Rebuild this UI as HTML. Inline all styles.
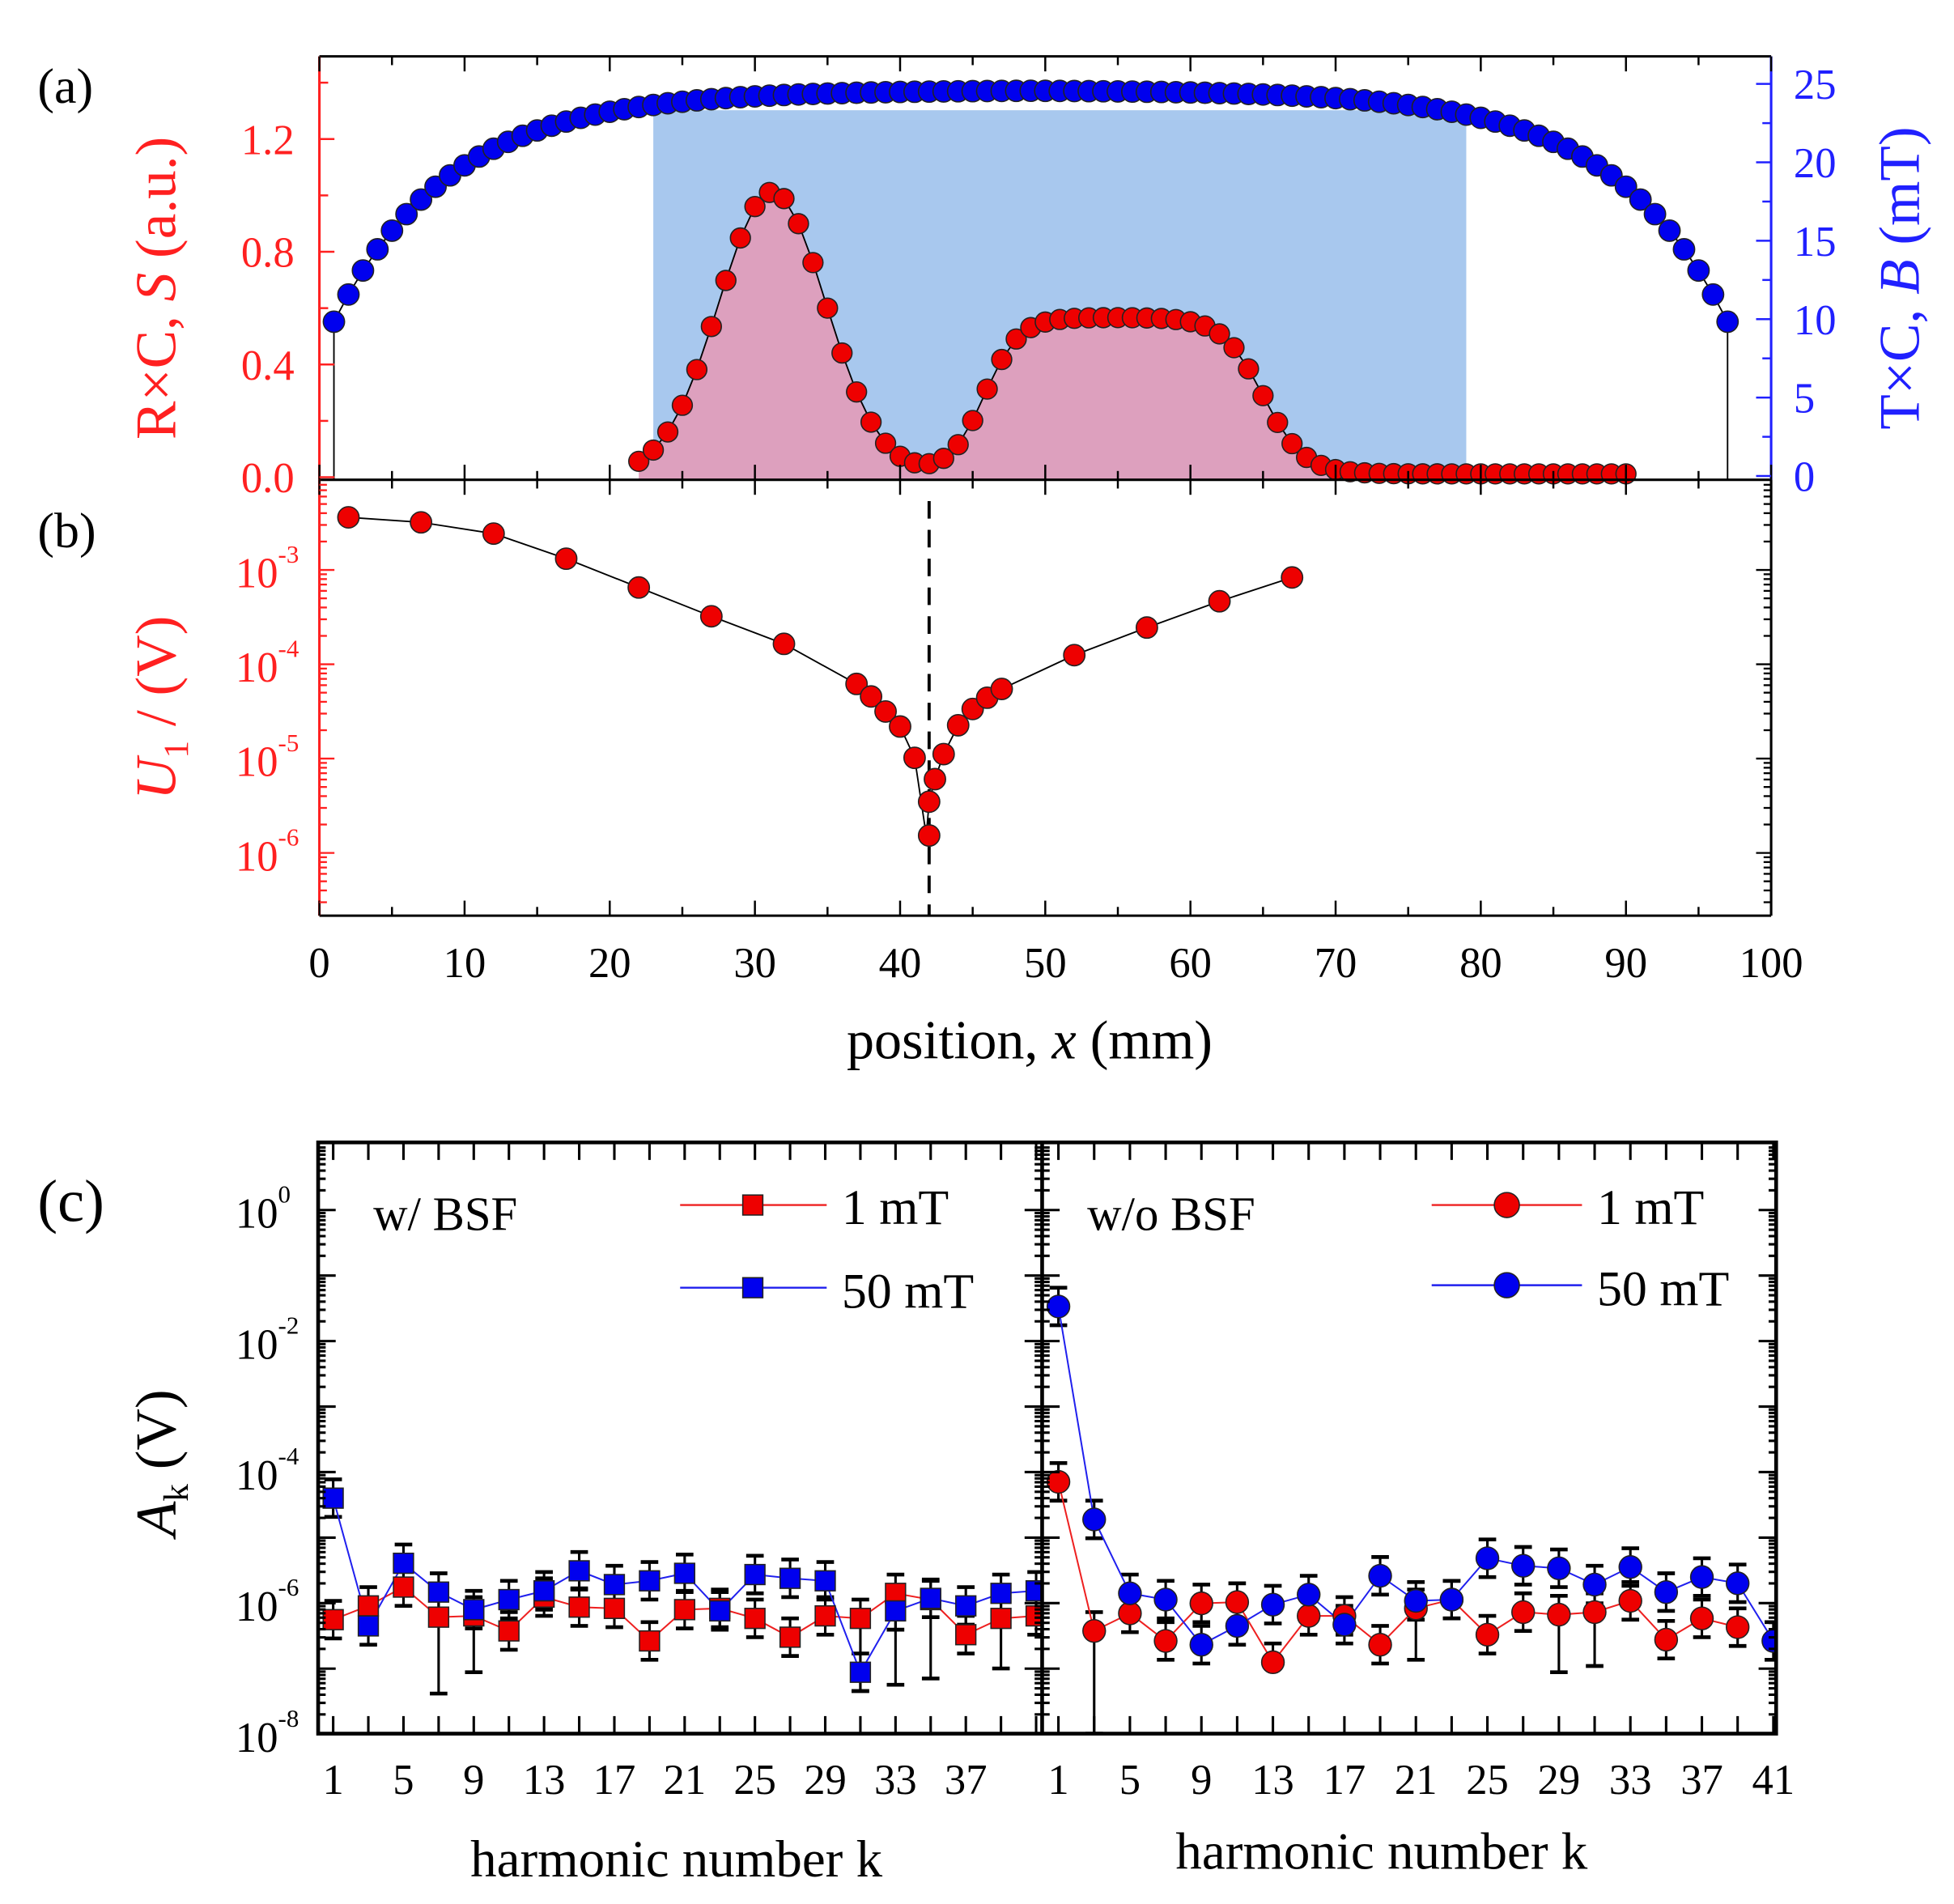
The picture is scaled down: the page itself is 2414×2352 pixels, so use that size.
<!DOCTYPE html>
<html><head><meta charset="utf-8"><style>html,body{margin:0;padding:0;background:#fff}svg{display:block}</style></head>
<body>
<svg id="s" width="2414" height="2352" viewBox="0 0 1560 1520" preserveAspectRatio="none" xmlns="http://www.w3.org/2000/svg" font-family="Liberation Serif, serif"></svg>
<script>
var o=[];function A(s){o.push(s);}
function ln(x1,y1,x2,y2,c,w,d){A('<line x1="'+x1+'" y1="'+y1+'" x2="'+x2+'" y2="'+y2+'" stroke="'+(c||'#000')+'" stroke-width="'+(w||1.5)+'"'+(d?' stroke-dasharray="'+d+'"':'')+'/>');}
function tx(x,y,t,sz,c,anc,extra){A('<text x="'+x+'" y="'+y+'" font-size="'+sz+'" fill="'+(c||'#000')+'" text-anchor="'+(anc||'start')+'" '+(extra||'')+'>'+t+'</text>');}
function circ(x,y,r,f){A('<circle cx="'+x+'" cy="'+y+'" r="'+r+'" fill="'+f+'" stroke="#222" stroke-width="1"/>');}
function sq(x,y,h,f){A('<rect x="'+(x-h)+'" y="'+(y-h)+'" width="'+2*h+'" height="'+2*h+'" fill="'+f+'" stroke="#222" stroke-width="1"/>');}
function pl(pts,c,w){A('<polyline points="'+pts.map(function(p){return p[0].toFixed(1)+','+p[1].toFixed(1)}).join(' ')+'" fill="none" stroke="'+c+'" stroke-width="'+(w||1.3)+'"/>');}
var X=function(v){return 255+v*11.59;};
var Ya=function(s){return 381-s*225;}, Yb=function(b){return 380-b*12.52;};
A('<rect x="'+X(23)+'" y="88" width="'+(X(79)-X(23))+'" height="'+(383-88)+'" fill="#a8c8ee"/>');
var S=function(x){var g=Math.exp(-Math.pow(x-31.2,2)/(2*13.6));var p=0.555/(1+Math.exp(-(x-45.8)/1.2))/(1+Math.exp((x-65)/1.4));return g+p+0.012;};
var rp=[];for(var x=22;x<=90;x++)rp.push([X(x),Ya(S(x))]);
A('<path d="M'+X(22)+',383 '+rp.map(function(p){return 'L'+p[0]+','+p[1]}).join(' ')+' L'+X(90)+',383Z" fill="#dda0be"/>');
pl(rp,'#000',1.2);
var B=function(x){var d=Math.min(x,98-x);return 24.6*(1-0.68*Math.exp(-d/8));};
var bp=[];for(var x=1;x<=97;x++)bp.push([X(x),Yb(B(x))]);
pl(bp,'#000',1.2);
ln(X(1),bp[0][1],X(1),383,'#000',1.2);ln(X(97),bp[96][1],X(97),383,'#000',1.2);
bp.forEach(function(p){circ(p[0],p[1],8.5,'#0000ee');});
rp.forEach(function(p){circ(p[0],p[1],8,'#ee0000');});
ln(255,45,1414,45,'#000',2);ln(255,383,1414,383,'#000',2);
ln(255,45,255,383,'#ff2020',2);ln(1414,45,1414,383,'#2020ff',2);
for(var v=0;v<=100;v+=5){var L=v%10==0?12:7;ln(X(v),45,X(v),45+L,'#000',1.6);ln(X(v),383,X(v),383-L,'#000',1.6);}
for(var s=0;s<=1.41;s+=0.2){var m=Math.round(s*10)%4==0;ln(255,Ya(s),255+(m?12:7),Ya(s),'#ff2020',1.6);if(m)tx(235,Ya(s)+12,s.toFixed(1),34,'#ff2020','end');}
for(var b=0;b<=25;b+=2.5){var m=b%5==0;ln(1414,Yb(b),1414-(m?12:7),Yb(b),'#2020ff',1.6);if(m)tx(1432,Yb(b)+12,b,34,'#2020ff','start');}
tx(30,82,'(a)',40);
tx(0,0,'R×C, <tspan font-style="italic">S</tspan> (a.u.)',46,'#ff2020','middle','transform="translate(140,230) rotate(-90)"');
tx(0,0,'T×C, <tspan font-style="italic">B</tspan> (mT)',46,'#2020ff','middle','transform="translate(1532,222) rotate(-90)"');
var bd=[[2,413],[7,417],[12,426],[17,446],[22,469],[27,492],[32,514],[37,546],[38,556],[39,568],[40,580],[41,605],[42,640],[42,667],[42.4,622],[43,602],[44,579],[45,566],[46,557],[47,550],[52,523],[57,501],[62,480],[67,461]];
var sorted=[[2,413],[7,417],[12,426],[17,446],[22,469],[27,492],[32,514],[37,546],[38,556],[39,568],[40,580],[41,605],[41.8,667],[42,640],[42.4,622],[43,602],[44,579],[45,566],[46,557],[47,550],[52,523],[57,501],[62,480],[67,461]];
pl(sorted.map(function(p){return [X(p[0]),p[1]]}),'#000',1.2);
ln(X(42),400,X(42),731,'#000',2.5,'14,9');
bd.forEach(function(p){circ(X(p[0]),p[1],8.5,'#ee0000');});
ln(255,731,1414,731,'#000',2);ln(255,383,255,731,'#ff2020',2);ln(1414,383,1414,731,'#000',2);
for(var v=0;v<=100;v+=5){var L=v%10==0?12:7;ln(X(v),731,X(v),731-L,'#000',1.6);ln(X(v),383,X(v),383+L,'#000',1.6);}
var Yl=function(e){return 455-(e+3)*75.3;};
for(var e=-7;e<=-2;e++){for(var k=1;k<10;k++){var y=Yl(e+Math.log10(k));if(y<385||y>729)continue;var m=k==1;ln(255,y,255+(m?12:6),y,'#ff2020',1.5);ln(1414,y,1414-(m?12:6),y,'#000',1.5);}}
[-3,-4,-5,-6].forEach(function(e){tx(222,Yl(e)+14,'10',34,'#ff2020','end');tx(222,Yl(e)-6,e,20,'#ff2020','start');});
tx(30,437,'(b)',40);
tx(0,0,'<tspan font-style="italic">U</tspan><tspan font-size="28" dy="10">1</tspan><tspan dy="-10"> / (V)</tspan>',46,'#ff2020','middle','transform="translate(140,565) rotate(-90)"');
for(var v=0;v<=100;v+=10)tx(X(v),780,v,34,'#000','middle');
tx(822,845,'position, <tspan font-style="italic">x</tspan> (mm)',44,'#000','middle');
var T=912,Bt=1384,L1=254,M=832,R1=1418;
var XL=function(k){return 266+(k-1)*14.03;}, XR=function(k){return 845+(k-1)*14.27;};
var Yc=function(e){return 966-e*52.3;};
var lr=[1293,1282,1267,1291,1290,1302,1275,1283,1284,1310,1285,1284,1292,1307,1290,1292,1272,1277,1305,1292,1290];
var lb=[1196,1298,1248,1271,1285,1277,1270,1254,1265,1262,1256,1286,1257,1260,1262,1335,1286,1276,1282,1272,1270];
var rr=[1183,1302,1288,1310,1280,1279,1327,1290,1290,1313,1284,1277,1305,1287,1289,1287,1278,1309,1292,1299];
var rb=[1043,1213,1272,1277,1313,1298,1281,1273,1297,1258,1278,1277,1244,1250,1252,1265,1251,1271,1259,1264,1310];
var lowL={7:1352,9:1335,33:1345,35:1340,39:1332,31:1350};var lowR={3:1384,29:1335,31:1330,21:1325,13:1330};
function eb(x,y,lo){var up=y-15,dn=lo||y+15;ln(x,up,x,dn,'#000',2);ln(x-7,up,x+7,up,'#000',3);ln(x-7,dn,x+7,dn,'#000',3);}
A('<clipPath id="cl"><rect x="'+L1+'" y="'+T+'" width="'+(M-L1)+'" height="'+(Bt-T)+'"/></clipPath><clipPath id="cr"><rect x="'+M+'" y="'+T+'" width="'+(R1-M)+'" height="'+(Bt-T)+'"/></clipPath>');
A('<g clip-path="url(#cl)">');
lr.forEach(function(y,i){eb(XL(2*i+1),y,lowL[2*i+1]);});lb.forEach(function(y,i){eb(XL(2*i+1),y);});
pl(lr.map(function(y,i){return [XL(2*i+1),y]}),'#ee2020');pl(lb.map(function(y,i){return [XL(2*i+1),y]}),'#2020ee');
lr.forEach(function(y,i){sq(XL(2*i+1),y,8,'#ee0000');});lb.forEach(function(y,i){sq(XL(2*i+1),y,8,'#0000ee');});
A('</g><g clip-path="url(#cr)">');
rr.forEach(function(y,i){eb(XR(2*i+1),y,lowR[2*i+1]);});rb.forEach(function(y,i){eb(XR(2*i+1),y);});
pl(rr.map(function(y,i){return [XR(2*i+1),y]}),'#ee2020');pl(rb.map(function(y,i){return [XR(2*i+1),y]}),'#2020ee');
rr.forEach(function(y,i){circ(XR(2*i+1),y,9,'#ee0000');});rb.forEach(function(y,i){circ(XR(2*i+1),y,9,'#0000ee');});
A('</g>');
A('<rect x="'+L1+'" y="'+T+'" width="'+(R1-L1)+'" height="'+(Bt-T)+'" fill="none" stroke="#000" stroke-width="3"/>');
ln(M,T,M,Bt,'#000',3);
for(var k=1;k<=41;k+=2){var xl=XL(k);if(xl<M-2){ln(xl,T,xl,T+14,'#000',2);ln(xl,Bt,xl,Bt-14,'#000',2);}var xr=XR(k);if(xr<R1-2){ln(xr,T,xr,T+14,'#000',2);ln(xr,Bt,xr,Bt-14,'#000',2);}}
for(var e=-9;e<=1;e++){for(var k=1;k<10;k++){var y=Yc(e+Math.log10(k));if(y<T+2||y>Bt-1)continue;var m=k==1;var l=m?14:6;
ln(L1,y,L1+l,y,'#000',2);ln(R1,y,R1-l,y,'#000',2);ln(M,y,M-l,y,'#000',2);ln(M,y,M+l,y,'#000',2);}}
[0,-2,-4,-6,-8].forEach(function(e){tx(222,Yc(e)+14,'10',34,'#000','end');tx(222,Yc(e)-6,e,20,'#000','start');});
[1,5,9,13,17,21,25,29,33,37].forEach(function(k){tx(XL(k),1432,k,34,'#000','middle');});
[1,5,9,13,17,21,25,29,33,37,41].forEach(function(k){tx(XR(k),1432,k,34,'#000','middle');});
tx(540,1498,'harmonic number k',42,'#000','middle');tx(1103,1492,'harmonic number k',42,'#000','middle');
tx(30,975,'(c)',48);
tx(0,0,'<tspan font-style="italic">A</tspan><tspan font-size="28" dy="10">k</tspan><tspan dy="-10"> (V)</tspan>',46,'#000','middle','transform="translate(140,1168) rotate(-90)"');
tx(298,982,'w/ BSF',38);tx(868,982,'w/o BSF',38);
ln(543,962,660,962,'#ee2020',1.6);sq(601,962,8,'#ee0000');tx(672,977,'1 mT',40);
ln(543,1028,660,1028,'#2020ee',1.6);sq(601,1028,8,'#0000ee');tx(672,1044,'50 mT',40);
ln(1143,962,1263,962,'#ee2020',1.6);circ(1203,962,10,'#ee0000');tx(1275,977,'1 mT',40);
ln(1143,1026,1263,1026,'#2020ee',1.6);circ(1203,1026,10,'#0000ee');tx(1275,1042,'50 mT',40);
document.getElementById('s').innerHTML=o.join('');
</script>
</body></html>
